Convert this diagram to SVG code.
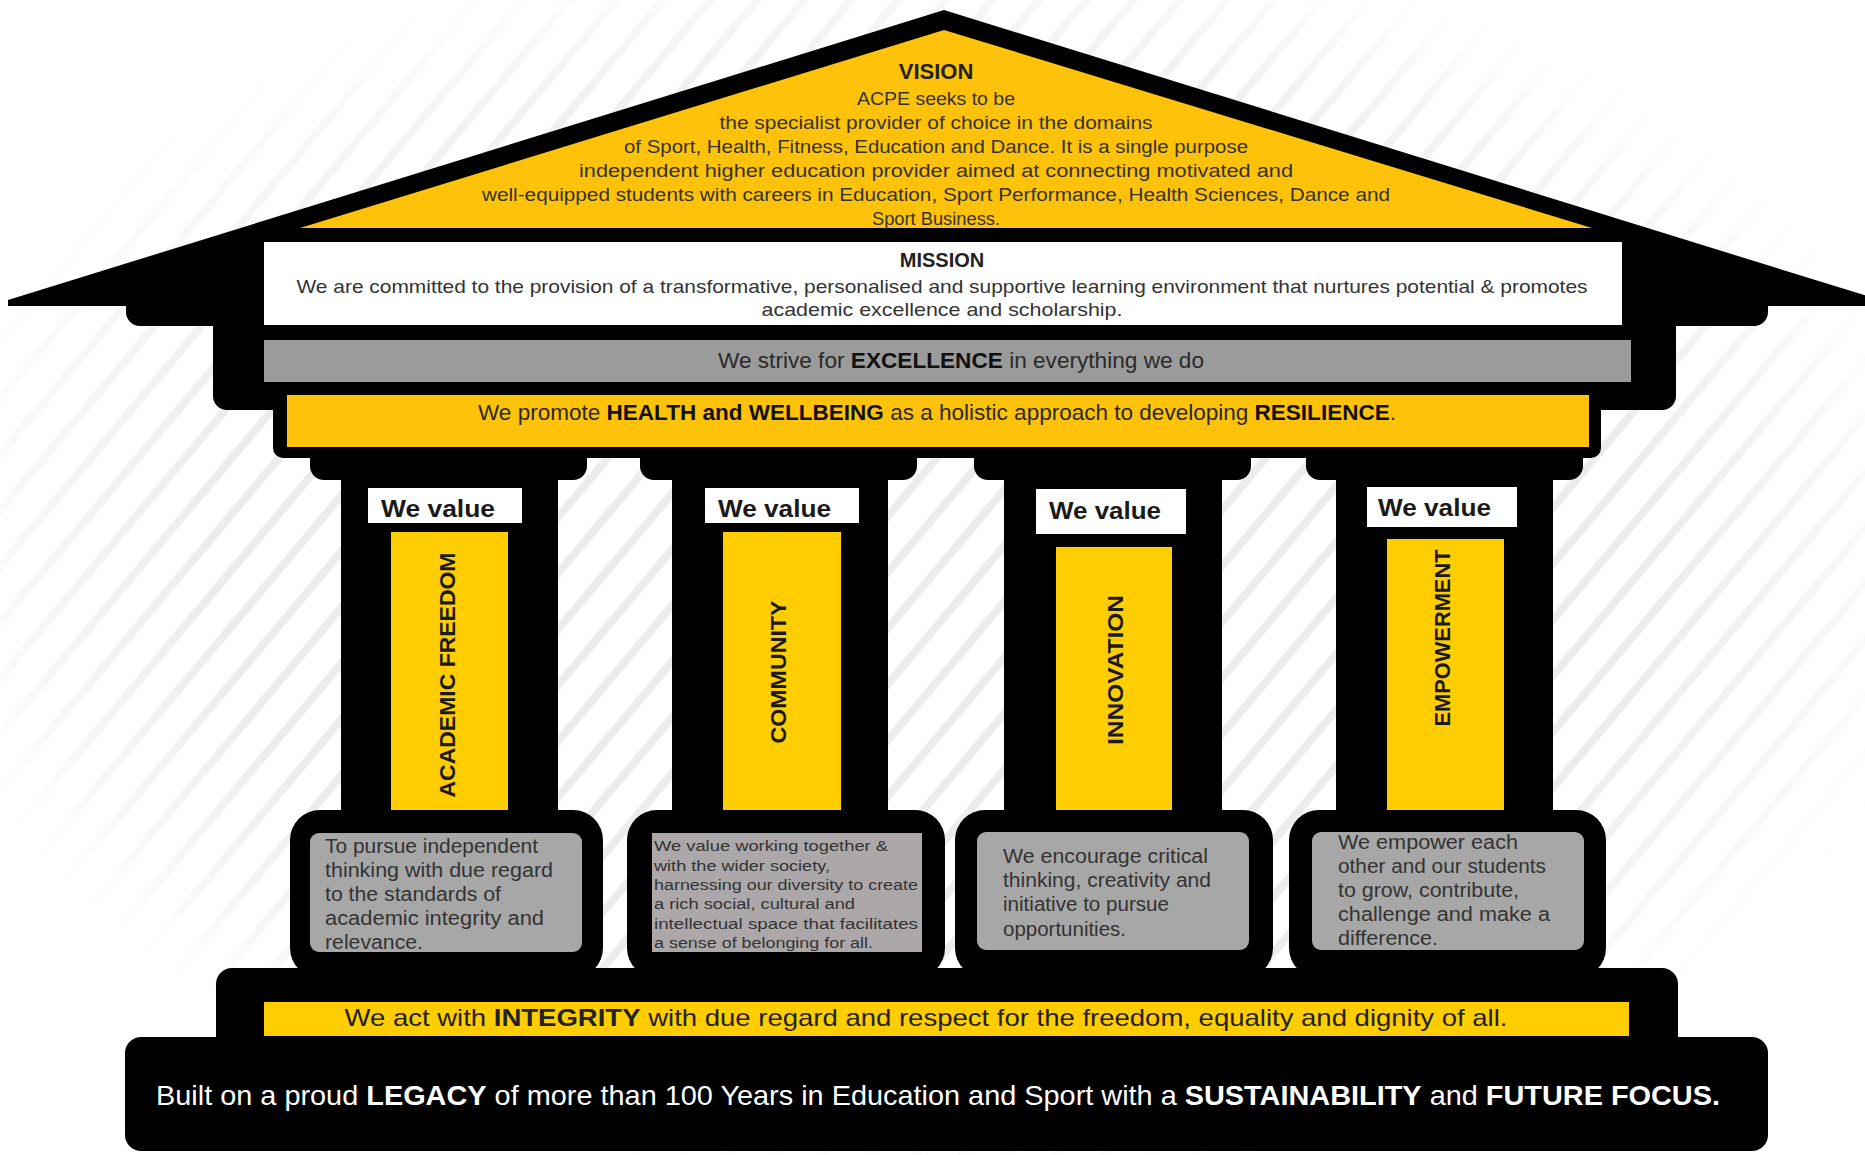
<svg xmlns="http://www.w3.org/2000/svg" width="1865" height="1155" viewBox="0 0 1865 1155">
<style>
text{font-family:"Liberation Sans",Arial,sans-serif;}
.blk{fill:#000;}
.yel{fill:#FFC20A;}
.yel2{fill:#FFCD00;}
.gry{fill:#9B9B9B;}
.box{fill:#A7A7A7;}
.wht{fill:#fff;}
.t{fill:#333;}
.c{text-anchor:middle;}
.b{font-weight:bold;}
.wv{font-size:24px;font-weight:bold;fill:#1a1a1a;}
.vl{font-size:22px;font-weight:bold;fill:#1a1a1a;text-anchor:middle;dominant-baseline:central;}
.d{font-size:20px;fill:#333;}
.s{font-size:15.5px;fill:#333;}
</style>
<defs>
<pattern id="hatch" patternUnits="userSpaceOnUse" width="36" height="36" patternTransform="rotate(40)">
<rect x="0" y="0" width="8" height="36" fill="#ececec"/>
</pattern>
<radialGradient id="fade" cx="0.5" cy="0.48" r="0.55">
<stop offset="0.7" stop-color="#fff"/>
<stop offset="1" stop-color="#000"/>
</radialGradient>
<mask id="hm">
<rect x="0" y="0" width="1865" height="1155" fill="url(#fade)"/>
</mask>
</defs>
<rect width="1865" height="1155" fill="#fff"/>
<rect x="0" y="0" width="1865" height="1155" fill="url(#hatch)" mask="url(#hm)"/>

<g id="base">
<rect class="blk" x="216" y="968" width="1462" height="90" rx="16"/>
<rect class="yel2" x="264" y="1002" width="1365" height="34"/>
<rect class="blk" x="125" y="1037" width="1643" height="114" rx="16"/>
<text x="926" y="1026" class="c" font-size="24" fill="#222" textLength="1163" lengthAdjust="spacingAndGlyphs">We act with <tspan class="b">INTEGRITY</tspan> with due regard and respect for the freedom, equality and dignity of all.</text>
<text x="938" y="1105" class="c" font-size="28" fill="#fff" textLength="1564" lengthAdjust="spacingAndGlyphs">Built on a proud <tspan class="b">LEGACY</tspan> of more than 100 Years in Education and Sport with a <tspan class="b">SUSTAINABILITY</tspan> and <tspan class="b">FUTURE FOCUS.</tspan></text>
</g>

<g id="pillar-academic-freedom">
<rect class="blk" x="310" y="440" width="277" height="40" rx="14"/>
<rect class="blk" x="341" y="470" width="217" height="350"/>
<rect class="blk" x="290" y="810" width="313" height="168" rx="30"/>
<rect class="wht" x="368" y="488" width="154" height="35"/>
<text x="381" y="517" class="wv" textLength="114" lengthAdjust="spacingAndGlyphs">We value</text>
<rect class="yel2" x="391" y="532" width="117" height="278"/>
<text class="vl" transform="translate(447,675) rotate(-90)" textLength="245" lengthAdjust="spacingAndGlyphs">ACADEMIC FREEDOM</text>
<rect class="box" x="310" y="833" width="272" height="119" rx="9"/>
<g class="d">
<text x="325" y="853" textLength="213" lengthAdjust="spacingAndGlyphs">To pursue independent</text>
<text x="325" y="877" textLength="228" lengthAdjust="spacingAndGlyphs">thinking with due  regard</text>
<text x="325" y="901" textLength="176" lengthAdjust="spacingAndGlyphs">to the standards of</text>
<text x="325" y="925" textLength="219" lengthAdjust="spacingAndGlyphs">academic integrity and</text>
<text x="325" y="949" textLength="98" lengthAdjust="spacingAndGlyphs">relevance.</text>
</g>
</g>

<g id="pillar-community">
<rect class="blk" x="640" y="440" width="277" height="40" rx="14"/>
<rect class="blk" x="672" y="470" width="216" height="350"/>
<rect class="blk" x="627" y="810" width="318" height="168" rx="30"/>
<rect class="wht" x="705" y="488" width="154" height="35"/>
<text x="718" y="517" class="wv" textLength="113" lengthAdjust="spacingAndGlyphs">We value</text>
<rect class="yel2" x="723" y="532" width="118" height="278"/>
<text class="vl" transform="translate(778,672) rotate(-90)" textLength="143" lengthAdjust="spacingAndGlyphs">COMMUNITY</text>
<rect x="652" y="833" width="270" height="119" fill="#ACA8A9"/>
<g class="s">
<text x="654" y="851" textLength="234" lengthAdjust="spacingAndGlyphs">We value working together &amp;</text>
<text x="654" y="871" textLength="176" lengthAdjust="spacingAndGlyphs">with the wider society,</text>
<text x="654" y="890" textLength="264" lengthAdjust="spacingAndGlyphs">harnessing our diversity to create</text>
<text x="654" y="909" textLength="201" lengthAdjust="spacingAndGlyphs">a rich social, cultural and</text>
<text x="654" y="929" textLength="264" lengthAdjust="spacingAndGlyphs">intellectual space that facilitates</text>
<text x="654" y="948" textLength="219" lengthAdjust="spacingAndGlyphs">a sense of belonging for all.</text>
</g>
</g>

<g id="pillar-innovation">
<rect class="blk" x="974" y="440" width="277" height="40" rx="14"/>
<rect class="blk" x="1004" y="470" width="218" height="350"/>
<rect class="blk" x="955" y="810" width="318" height="168" rx="30"/>
<rect class="wht" x="1036" y="489" width="150" height="45"/>
<text x="1049" y="519" class="wv" textLength="112" lengthAdjust="spacingAndGlyphs">We value</text>
<rect class="yel2" x="1056" y="547" width="116" height="263"/>
<text class="vl" transform="translate(1115,670) rotate(-90)" textLength="150" lengthAdjust="spacingAndGlyphs">INNOVATION</text>
<rect class="box" x="977" y="832" width="272" height="118" rx="9"/>
<g class="d">
<text x="1003" y="863" textLength="205" lengthAdjust="spacingAndGlyphs">We encourage critical</text>
<text x="1003" y="887" textLength="208" lengthAdjust="spacingAndGlyphs">thinking, creativity and</text>
<text x="1003" y="911" textLength="166" lengthAdjust="spacingAndGlyphs">initiative to pursue</text>
<text x="1003" y="936" textLength="123" lengthAdjust="spacingAndGlyphs">opportunities.</text>
</g>
</g>

<g id="pillar-empowerment">
<rect class="blk" x="1306" y="440" width="277" height="40" rx="14"/>
<rect class="blk" x="1336" y="470" width="217" height="350"/>
<rect class="blk" x="1289" y="810" width="317" height="168" rx="30"/>
<rect class="wht" x="1367" y="487" width="150" height="40"/>
<text x="1378" y="516" class="wv" textLength="113" lengthAdjust="spacingAndGlyphs">We value</text>
<rect class="yel2" x="1387" y="539" width="117" height="271"/>
<text class="vl" transform="translate(1442,638) rotate(-90)" textLength="177" lengthAdjust="spacingAndGlyphs">EMPOWERMENT</text>
<rect class="box" x="1312" y="832" width="272" height="118" rx="9"/>
<g class="d">
<text x="1338" y="849" textLength="180" lengthAdjust="spacingAndGlyphs">We empower each</text>
<text x="1338" y="873" textLength="208" lengthAdjust="spacingAndGlyphs">other and our students</text>
<text x="1338" y="897" textLength="181" lengthAdjust="spacingAndGlyphs">to grow, contribute,</text>
<text x="1338" y="921" textLength="212" lengthAdjust="spacingAndGlyphs">challenge and make a</text>
<text x="1338" y="945" textLength="100" lengthAdjust="spacingAndGlyphs">difference.</text>
</g>
</g>

<g id="excellence">
<rect class="blk" x="213" y="300" width="1463" height="110" rx="14"/>
<rect class="gry" x="264" y="340" width="1367" height="42"/>
<text x="961" y="368" class="c" font-size="22" fill="#2a2a2a" textLength="486" lengthAdjust="spacingAndGlyphs">We strive for <tspan class="b" fill="#111">EXCELLENCE</tspan> in everything we do</text>
</g>

<g id="health">
<rect class="blk" x="273" y="385" width="1328" height="73" rx="10"/>
<rect class="yel" x="287" y="395" width="1302" height="52"/>
<text x="937" y="420" class="c" font-size="22" fill="#2a2a2a" textLength="918" lengthAdjust="spacingAndGlyphs">We promote <tspan class="b" fill="#111">HEALTH and WELLBEING</tspan> as a holistic approach to developing <tspan class="b" fill="#111">RESILIENCE</tspan>.</text>
</g>

<g id="roof">
<polygon class="blk" points="8,300 944,10 1880,300 1880,306 8,306"/>
<rect class="blk" x="126" y="288" width="1642" height="38" rx="14"/>
<polygon class="yel" points="300,228 944,30 1592,228"/>
<text x="936" y="79" class="c b" font-size="22" fill="#222">VISION</text>
<g class="t" font-size="18">
<text x="936" y="105" class="c" textLength="158" lengthAdjust="spacingAndGlyphs">ACPE seeks to be</text>
<text x="936" y="129" class="c" textLength="433" lengthAdjust="spacingAndGlyphs">the specialist provider of choice in the domains</text>
<text x="936" y="153" class="c" textLength="624" lengthAdjust="spacingAndGlyphs">of Sport, Health, Fitness, Education and Dance.  It is a single purpose</text>
<text x="936" y="177" class="c" textLength="714" lengthAdjust="spacingAndGlyphs">independent higher education provider aimed at connecting motivated and</text>
<text x="936" y="201" class="c" textLength="908" lengthAdjust="spacingAndGlyphs">well-equipped students with careers in Education, Sport Performance, Health Sciences, Dance and</text>
<text x="936" y="225" class="c" textLength="128" lengthAdjust="spacingAndGlyphs">Sport Business.</text>
</g>
</g>

<g id="mission">
<rect class="wht" x="264" y="242" width="1358" height="83"/>
<text x="942" y="267" class="c b" font-size="20" fill="#222">MISSION</text>
<text x="942" y="293" class="c t" font-size="19" textLength="1291" lengthAdjust="spacingAndGlyphs">We are committed to the provision of a transformative, personalised and supportive learning environment that nurtures potential &amp; promotes</text>
<text x="942" y="316" class="c t" font-size="19" textLength="361" lengthAdjust="spacingAndGlyphs">academic excellence and scholarship.</text>
</g>

<g id="connectors"></g>
</svg>
